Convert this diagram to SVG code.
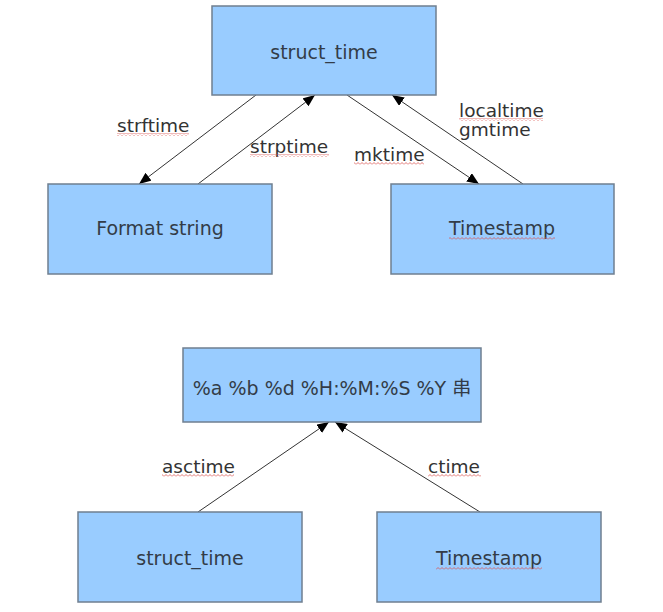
<svg xmlns="http://www.w3.org/2000/svg" width="663" height="612" viewBox="0 0 663 612">
<defs>
<style>
.box{fill:#99ccff;stroke:#6f7f90;stroke-width:1.5}
.bt{font-family:"DejaVu Sans","Noto Sans CJK SC",sans-serif;font-size:19px;fill:#333c48;text-anchor:middle}
.lb{font-family:"DejaVu Sans",sans-serif;font-size:18.5px;fill:#333333}
.cn{stroke:#333333;stroke-width:1;fill:none;marker-end:url(#ah)}
.sq{fill:url(#wave)}
</style>
<marker id="ah" viewBox="0 0 12 10" refX="12" refY="5" markerWidth="12" markerHeight="10" markerUnits="userSpaceOnUse" orient="auto">
<path d="M0,0 L12,5 L0,10 Z" fill="#000"/>
</marker>
<pattern id="wave" patternUnits="userSpaceOnUse" x="0" y="0" width="4" height="3">
<polyline points="0,2.5 2,0.5 4,2.5" fill="none" stroke="#d9534f" stroke-width="0.8"/>
</pattern>
</defs>
<rect width="663" height="612" fill="#ffffff"/>
<g id="connectors">
<line class="cn" x1="256" y1="95" x2="139" y2="184"/>
<line class="cn" x1="198" y1="184" x2="315" y2="95"/>
<line class="cn" x1="347" y1="95" x2="479" y2="184"/>
<line class="cn" x1="523" y1="184" x2="392" y2="95"/>
<line class="cn" x1="198" y1="512" x2="329" y2="422"/>
<line class="cn" x1="480" y1="512" x2="335" y2="422"/>
</g>
<g id="labels">
<text class="lb" x="117" y="132">strftime</text>
<rect class="sq" x="117" y="133" width="72" height="3"/>
<text class="lb" x="250" y="153">strptime</text>
<rect class="sq" x="250" y="154" width="79" height="3"/>
<text class="lb" x="354" y="161">mktime</text>
<rect class="sq" x="354" y="162" width="70" height="3"/>
<text class="lb" x="459" y="117">localtime</text>
<rect class="sq" x="459" y="118" width="84" height="3"/>
<text class="lb" x="459" y="136">gmtime</text>
<text class="lb" x="162" y="473">asctime</text>
<rect class="sq" x="162" y="474" width="72" height="3"/>
<text class="lb" x="428" y="473">ctime</text>
<rect class="sq" x="428" y="474" width="53" height="3"/>
</g>
<g id="n_struct_time_top">
<rect class="box" x="212" y="6" width="224" height="89"/>
<text class="bt" x="324" y="59">struct_time</text>
</g>
<g id="n_format_string">
<rect class="box" x="48" y="184" width="224" height="90"/>
<text class="bt" x="160" y="235">Format string</text>
</g>
<g id="n_timestamp_top">
<rect class="box" x="391" y="184" width="223" height="90"/>
<text class="bt" x="502" y="235">Timestamp</text>
<rect class="sq" x="449" y="237" width="106" height="3"/>
</g>
<g id="n_format_output">
<rect class="box" x="183" y="348" width="298" height="74"/>
<text class="bt" x="332" y="395">%a %b %d %H:%M:%S %Y 串</text>
</g>
<g id="n_struct_time_bottom">
<rect class="box" x="78" y="512" width="224" height="90"/>
<text class="bt" x="190" y="565">struct_time</text>
</g>
<g id="n_timestamp_bottom">
<rect class="box" x="377" y="512" width="224" height="90"/>
<text class="bt" x="489" y="565">Timestamp</text>
<rect class="sq" x="436" y="567" width="106" height="3"/>
</g>
</svg>
